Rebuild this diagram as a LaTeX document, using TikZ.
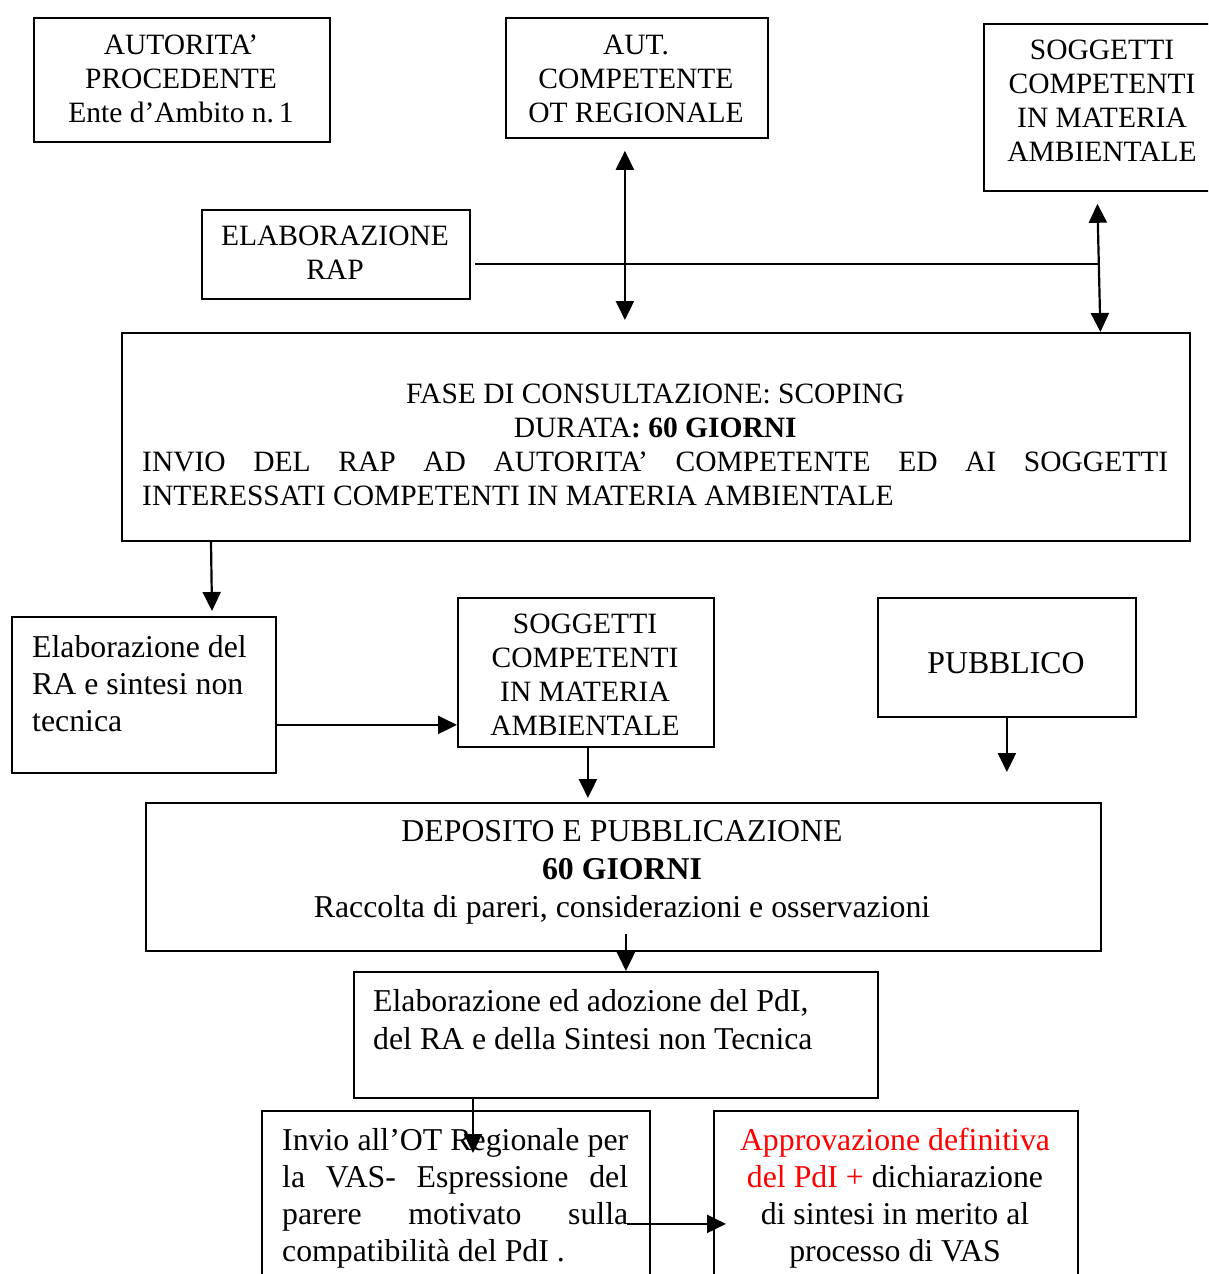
\documentclass[tikz,border=0pt]{standalone}
\usepackage{fontspec}
\setmainfont{Liberation Serif}
\usetikzlibrary{arrows.meta,calc}
\tikzset{
  box/.style={draw, line width=1.8pt, inner sep=0pt, anchor=north west},
  tip/.tip={Triangle[length=19pt,width=18pt]},
  arr/.style={line width=2.2pt, -tip},
  dbl/.style={line width=2.2pt, tip-tip},
  plain/.style={line width=1.8pt},
  txtS/.style={inner sep=0pt, font=\fontsize{29.5}{34}\selectfont},
  txtL/.style={inner sep=0pt, font=\fontsize{31.8}{37}\selectfont},
}
\begin{document}
\begin{tikzpicture}[x=1pt,y=-1pt]
\useasboundingbox (0,0) rectangle (1208,1274);
\clip (0,0) rectangle (1208,1274);
% boxes
\node[box, minimum width=296pt, minimum height=124pt] (boxA) at (33,17) {};
\node[box, minimum width=262pt, minimum height=120pt] (boxB) at (505,17) {};
\node[box, minimum width=226pt, minimum height=167pt] (boxC) at (983,23) {};
\node[box, minimum width=268pt, minimum height=89pt] (rap) at (201,209) {};
\node[box, minimum width=1068pt, minimum height=208pt] (fase) at (121,332) {};
\node[box, minimum width=264pt, minimum height=156pt] (elabra) at (11,616) {};
\node[box, minimum width=256pt, minimum height=149pt] (sog2) at (457,597) {};
\node[box, minimum width=258pt, minimum height=119pt] (pub) at (877,597) {};
\node[box, minimum width=955pt, minimum height=148pt] (dep) at (145,802) {};
\node[box, minimum width=524pt, minimum height=126pt] (adoz) at (353,971) {};
\node[box, minimum width=388pt, minimum height=180pt] (invio) at (261,1110) {};
\node[box, minimum width=364pt, minimum height=180pt] (appr) at (713,1110) {};
% texts
\node[txtS, align=center, anchor=north] (tA) at (181,35) {AUTORITA’\\PROCEDENTE\\Ente d’Ambito n.\,1};
\node[txtS, align=center, anchor=north] (tB) at (636,35) {AUT.\\COMPETENTE\\OT REGIONALE};
\node[txtS, align=center, anchor=north] (tC) at (1102,40) {SOGGETTI\\COMPETENTI\\IN MATERIA\\AMBIENTALE};
\node[txtS, align=center, anchor=north] (tRap) at (335,226) {ELABORAZIONE\\RAP};
\node[txtS, anchor=north west] (tFase) at (142,384) {\parbox[t]{1026pt}{{\centering FASE DI CONSULTAZIONE: SCOPING\\DURATA\textbf{: 60 GIORNI}\par}INVIO DEL RAP AD AUTORITA’ COMPETENTE ED AI SOGGETTI\linebreak INTERESSATI COMPETENTI IN MATERIA AMBIENTALE}};
\node[txtL, align=left, anchor=north west] (tElabRA) at (32,635) {Elaborazione del\\RA e sintesi non\\tecnica};
\node[txtS, align=center, anchor=north] (tSog2) at (585,614) {SOGGETTI\\COMPETENTI\\IN MATERIA\\AMBIENTALE};
\node[txtL, anchor=center] (tPub) at (1006,663) {PUBBLICO};
\node[txtL, align=center, anchor=north, font=\fontsize{31.8}{38}\selectfont] (tDep) at (622,820) {DEPOSITO E PUBBLICAZIONE\\\textbf{60 GIORNI}\\Raccolta di pareri, considerazioni e osservazioni};
\node[txtL, align=left, anchor=north west, font=\fontsize{31.8}{38}\selectfont] (tAdoz) at (373,989) {Elaborazione ed adozione del PdI,\\del RA e della Sintesi non Tecnica};
\node[txtL, anchor=north west] (tInvio) at (282,1128) {\parbox[t]{346pt}{Invio all’OT Regionale per\linebreak la VAS- Espressione del\linebreak parere motivato sulla\linebreak compatibilità del PdI .}};
\node[txtL, align=center, anchor=north] (tAppr) at (895,1128) {\textcolor{red}{Approvazione definitiva}\\\textcolor{red}{del PdI +} dichiarazione\\di sintesi in merito al\\processo di VAS};
% connectors
\coordinate (jn) at ($(rap.east)+(629,9.5)$);
\draw[plain] ([xshift=4pt,yshift=-9.5pt]rap.east) -- (jn);
\draw[dbl] ([xshift=-12pt,yshift=-12pt]boxB.south) -- ([xshift=-12pt,yshift=12pt]boxB.south |- fase.north);
\draw[dbl] ([xshift=0.5pt,yshift=-12pt]boxC.south) -- ([xshift=3.5pt]boxC.south |- fase.north);
\draw[arr] ([xshift=90pt]fase.south west) -- ([xshift=201pt,yshift=5pt]elabra.north west);
\draw[arr] ([yshift=-30pt]elabra.east) -- ([yshift=-30pt]elabra.east -| sog2.west);
\draw[arr] ([xshift=2pt]sog2.south) -- ([xshift=2pt,yshift=4pt]sog2.south |- dep.north);
\draw[arr] (pub.south) -- ([yshift=30pt]pub.south |- dep.north);
\draw[arr] ([xshift=2.5pt,yshift=18pt]dep.south) -- ([xshift=2.5pt]dep.south |- adoz.north);
\draw[arr] ([xshift=120pt]adoz.south west) -- ([xshift=212pt,yshift=-43pt]invio.north west);
\draw[arr] ([xshift=-24pt,yshift=-23pt]invio.east) -- ([xshift=13pt,yshift=-23pt]invio.east -| appr.west);
\end{tikzpicture}
\end{document}
